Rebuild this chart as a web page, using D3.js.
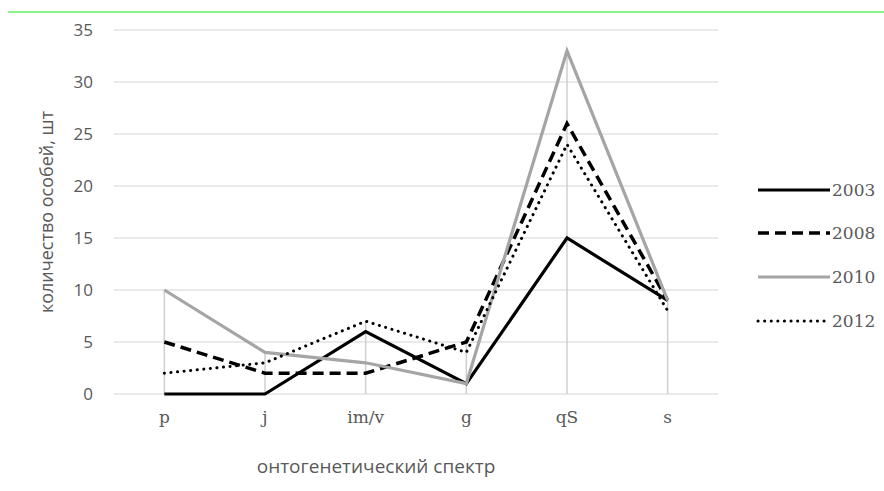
<!DOCTYPE html>
<html><head><meta charset="utf-8">
<script src="https://cdn.jsdelivr.net/npm/d3@7"></script>
<style>body{margin:0;background:#fff}svg{display:block}</style>
</head><body>
<script>
const categories = ["p","j","im/v","g","qS","s"];
const years = ["2003","2008","2010","2012"];
const v2003 = [0,0,6,1,15,9];
const v2008 = [5,2,2,5,26,9];
const v2010 = [10,4,3,1,33,9];
const v2012 = [2,3,7,4,24,8];
const yTicks = [0,5,10,15,20,25,30,35];
const seriesValues = [v2003,v2008,v2010,v2012];

const W=884,H=491;
const svg=d3.select("body").append("svg").attr("width",W).attr("height",H);
svg.append("line").attr("x1",8).attr("x2",W).attr("y1",12).attr("y2",12).attr("stroke","#5ef05e").attr("stroke-width",1.5);

const x=d3.scaleBand().domain(categories).range([114,718]);
const y=d3.scaleLinear().domain([0,35]).range([394,30]);
const cx=c=>x(c)+x.bandwidth()/2;

// gridlines
svg.append("g").selectAll("line").data(yTicks).join("line")
 .attr("x1",114).attr("x2",718).attr("y1",d=>y(d)).attr("y2",d=>y(d))
 .attr("stroke","#e2e2e2").attr("stroke-width",1.5);
// y labels
svg.append("g").selectAll("text").data(yTicks).join("text")
 .attr("x",93).attr("y",d=>y(d)+6).attr("text-anchor","end")
 .attr("font-family","Open Sans, sans-serif").attr("font-size",17).attr("fill","#595959").text(d=>d);
// drop lines
svg.append("g").selectAll("line").data(categories).join("line")
 .attr("x1",d=>cx(d)).attr("x2",d=>cx(d)).attr("y1",y(0))
 .attr("y2",(d,i)=>y(d3.max(seriesValues,s=>s[i])))
 .attr("stroke","#cfcfcf").attr("stroke-width",1.5);
// x labels
svg.append("g").selectAll("text").data(categories).join("text")
 .attr("x",d=>cx(d)).attr("y",423).attr("text-anchor","middle")
 .attr("font-family","DejaVu Serif, serif").attr("font-size",17).attr("fill","#595959").text(d=>d);
svg.append("text").attr("x",376).attr("y",473).attr("text-anchor","middle")
 .attr("font-family","Open Sans, sans-serif").attr("font-size",19).attr("fill","#595959").text("онтогенетический спектр");
svg.append("text").attr("transform","translate(53,212) rotate(-90)").attr("text-anchor","middle")
 .attr("font-family","Open Sans, sans-serif").attr("font-size",18).attr("fill","#595959").text("количество особей, шт");

const styles=[
 {stroke:"#000",w:3.2,dash:null,cap:"butt"},
 {stroke:"#000",w:3.5,dash:"11,6",cap:"butt"},
 {stroke:"#a5a5a5",w:3.2,dash:null,cap:"butt"},
 {stroke:"#000",w:3,dash:"0.1,6.5",cap:"round"}
];
const line=d3.line().x((d,i)=>cx(categories[i])).y(d=>y(d));
seriesValues.forEach((s,k)=>{
 svg.append("path").attr("d",line(s)).attr("fill","none")
  .attr("stroke",styles[k].stroke).attr("stroke-width",styles[k].w)
  .attr("stroke-dasharray",styles[k].dash).attr("stroke-linecap",styles[k].cap)
  .attr("stroke-linejoin","miter");
});
// legend
const ly=[190,233,277,321];
years.forEach((yr,k)=>{
 svg.append("line").attr("x1",758).attr("x2",830).attr("y1",ly[k]).attr("y2",ly[k])
  .attr("stroke",styles[k].stroke).attr("stroke-width",styles[k].w)
  .attr("stroke-dasharray",styles[k].dash).attr("stroke-linecap",styles[k].cap);
 svg.append("text").attr("x",832).attr("y",ly[k]+6).attr("font-family","DejaVu Serif, serif")
  .attr("font-size",17).attr("fill","#595959").text(yr);
});
</script>
</body></html>
